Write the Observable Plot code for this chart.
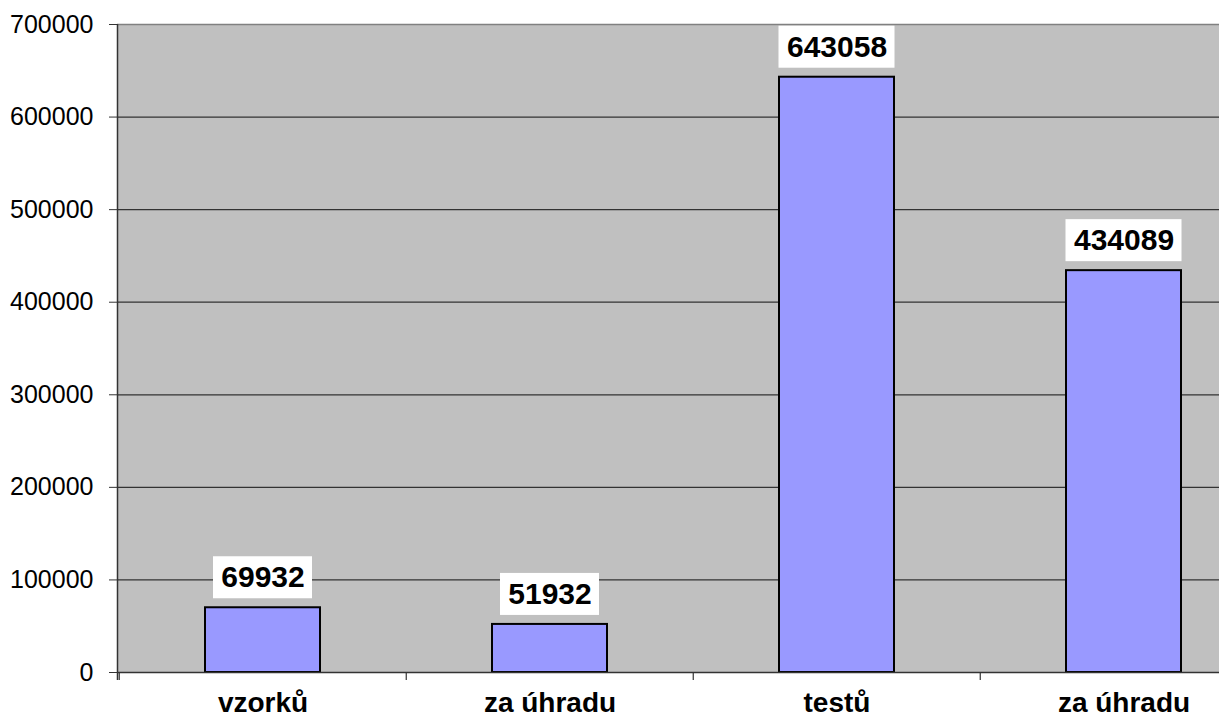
<!DOCTYPE html>
<html>
<head>
<meta charset="utf-8">
<script src="https://cdn.jsdelivr.net/npm/d3@7"></script>
<script src="https://cdn.jsdelivr.net/npm/@observablehq/plot@0.6"></script>
<style>
  html, body { margin: 0; padding: 0; background: #fff; overflow: hidden; }
  #chart svg { display: block; }
</style>
</head>
<body>
<div id="chart"></div>
<script>
const categories = ["vzorků", "za úhradu", "testů", "za úhradu"];
const values = [69932, 51932, 643058, 434089];
const yTicks = [0, 100000, 200000, 300000, 400000, 500000, 600000, 700000];

const data = categories.map((c, i) => ({i, label: c, value: values[i], text: String(values[i])}));
const step = 1150 / 4;

const plot = Plot.plot({
  width: 1219,
  height: 717,
  marginLeft: 117,
  marginRight: 0,
  marginTop: 24,
  marginBottom: 45,
  style: {fontFamily: "'Liberation Sans', Arial, sans-serif", background: "#fff", overflow: "hidden"},
  x: {type: "band", domain: data.map(d => d.i), range: [117.5, 1267.5], paddingInner: 0.6, paddingOuter: 0.3, align: 0.5, label: null},
  y: {domain: [0, 700000], range: [672, 24], label: null},
  marks: [
    Plot.frame({fill: "#c0c0c0", stroke: null}),
    Plot.ruleY(yTicks.filter(t => t > 0 && t < 700000), {stroke: "#333", strokeWidth: 1.2}),
    Plot.ruleY([700000], {stroke: "#808080", strokeWidth: 1.5}),
    Plot.barY(data, {x: "i", y: "value", fill: "#9999ff", stroke: "#000", strokeWidth: 2}),
    Plot.barY(data.filter(d => d.text.length <= 5), {x: "i", y1: "value", y2: "value", fill: "#fff", insetTop: -51, insetBottom: 9, insetLeft: 8, insetRight: 8}),
    Plot.barY(data.filter(d => d.text.length > 5), {x: "i", y1: "value", y2: "value", fill: "#fff", insetTop: -51, insetBottom: 9, insetLeft: -0.5, insetRight: -0.5}),
    Plot.text(data, {x: "i", y: "value", text: "text", dy: -30, fontSize: 30, fontWeight: "bold", fill: "#000", lineAnchor: "middle"}),
    Plot.ruleY([0], {stroke: "#333", strokeWidth: 1.5}),
    Plot.ruleX(data, {x: "i", y1: () => 0, y2: () => 0, dx: -step / 2, insetBottom: -8, stroke: "#333", strokeWidth: 1.2}),
    Plot.axisY({ticks: yTicks, tickSize: 8, tickPadding: 16, fontSize: 25, tickFormat: d => String(d), stroke: "#333", fill: "#000", label: null}),
    Plot.axisX({tickSize: 0, tickPadding: 20, fontSize: 28, fontWeight: "bold", tickFormat: i => categories[i], fill: "#000", label: null})
  ]
});

document.getElementById("chart").appendChild(plot);
// left axis line
d3.select(plot).append("line")
  .attr("x1", 117.5).attr("x2", 117.5).attr("y1", 24).attr("y2", 680)
  .attr("stroke", "#333").attr("stroke-width", 1.5);
</script>
</body>
</html>
